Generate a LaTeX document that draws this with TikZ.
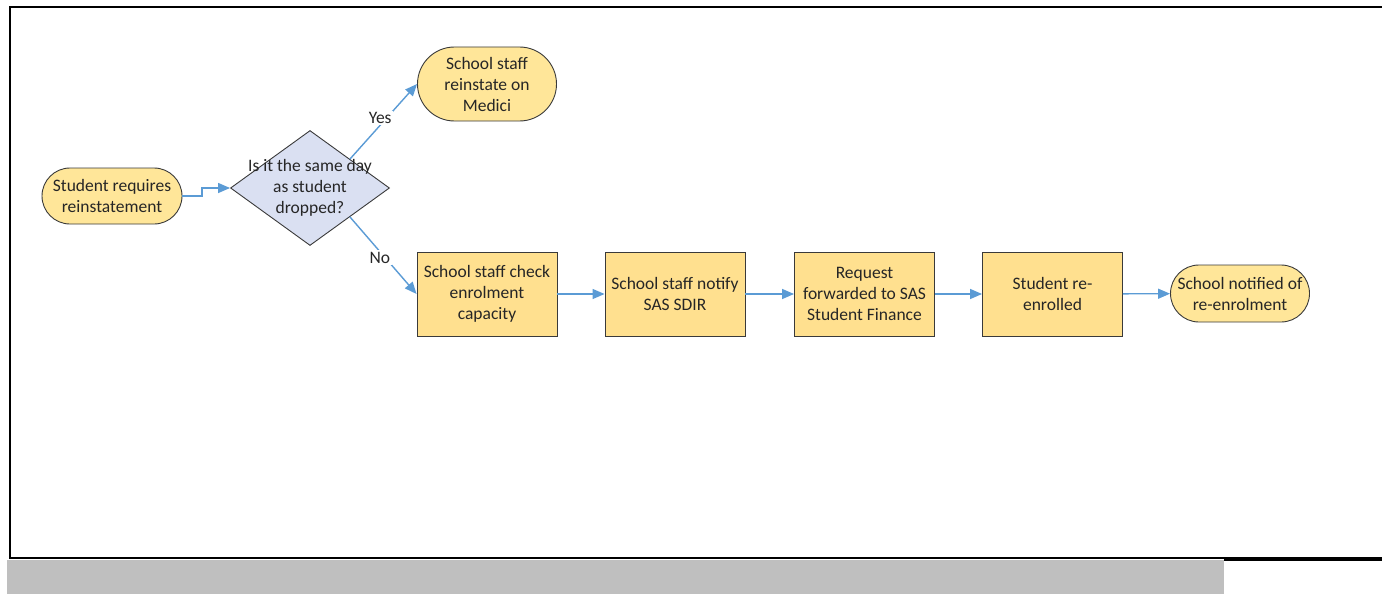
\documentclass[tikz,border=0pt]{standalone}
\usepackage{fontspec}
\setmainfont{Carlito}
\usetikzlibrary{shapes.geometric,shapes.misc,arrows.meta}
\definecolor{termfill}{HTML}{FFE699}
\definecolor{boxfill}{HTML}{FFE08F}
\definecolor{decfill}{HTML}{DAE0F2}
\definecolor{linkblue}{HTML}{5B9BD5}
\definecolor{edgegray}{HTML}{3A3A3A}
\tikzset{
% Node styles for the flow chart: terminators, steps and the decision
term node/.style={rounded rectangle,draw=edgegray,fill=termfill,line width=0.9pt,
  inner sep=0,align=center},
step node/.style={rectangle,draw=edgegray,fill=boxfill,line width=0.9pt,
  minimum width=140,minimum height=84,inner sep=0,align=center},
dec node/.style={diamond,draw=edgegray,fill=decfill,line width=0.9pt,
  minimum width=159,minimum height=115,inner sep=0},
flow/.style={draw=linkblue,line width=1.4pt,-{Triangle[length=12pt,width=10pt]}},
flow label/.style={fill=white,inner sep=1.5}
}

\begin{document}
\begin{tikzpicture}[x=1pt,y=-1pt,font=\fontsize{17.5}{21}\selectfont,text=black!85]
      \useasboundingbox (0,0) rectangle (1382,594);
      % Frame and grey strip at the foot
      \fill[black!25] (7,560) rectangle (1224,594);
      \draw[line width=2pt] (1382,7) -- (10,7) -- (10,558) -- (1382,558);
      \draw[line width=3.5pt] (1224,559) -- (1382,559);
      % Start and decision
      \node(start)[term node,minimum width=140,minimum height=56] at (112,196)
        {Student requires\\reinstatement};
      \node(dec)[dec node] at (310,188) {};
      \node(dectext)[align=center] at (310,188) {Is it the same day\\as student\\dropped?};
      % Yes branch
      \node(medici)[term node,minimum width=139,minimum height=74] at (487,84)
        {School staff\\reinstate on\\Medici};
      % No branch: the row of steps
      \node(check)[step node] at (487,294) {School staff check\\enrolment\\capacity};
      \node(notify)[step node] at (675,294) {School staff notify\\SAS SDIR};
      \node(forward)[step node] at (864.5,294) {Request\\forwarded to SAS\\Student Finance};
      \node(enrolled)[step node] at (1052.5,294) {Student re-\\enrolled};
      \node(notified)[term node,minimum width=139,minimum height=57] at (1240,293.5)
        {School notified of\\re-enrolment};
      % Connectors
      \coordinate (kink) at (202,196);
      \draw[flow] (start.east) -- (kink) |- (dec.west);
      \draw[flow] (dec.north east) -- node[flow label,pos=.45,yshift=7]{Yes} (medici.west);
      \draw[flow] (dec.south east) -- node[flow label,pos=.45,yshift=-6]{No} (check.west);
      \draw[flow] (check) -- (notify);
      \draw[flow] (notify) -- (forward);
      \draw[flow] (forward) -- (enrolled);
      \draw[flow] (enrolled) -- (notified);
\end{tikzpicture}
\end{document}
